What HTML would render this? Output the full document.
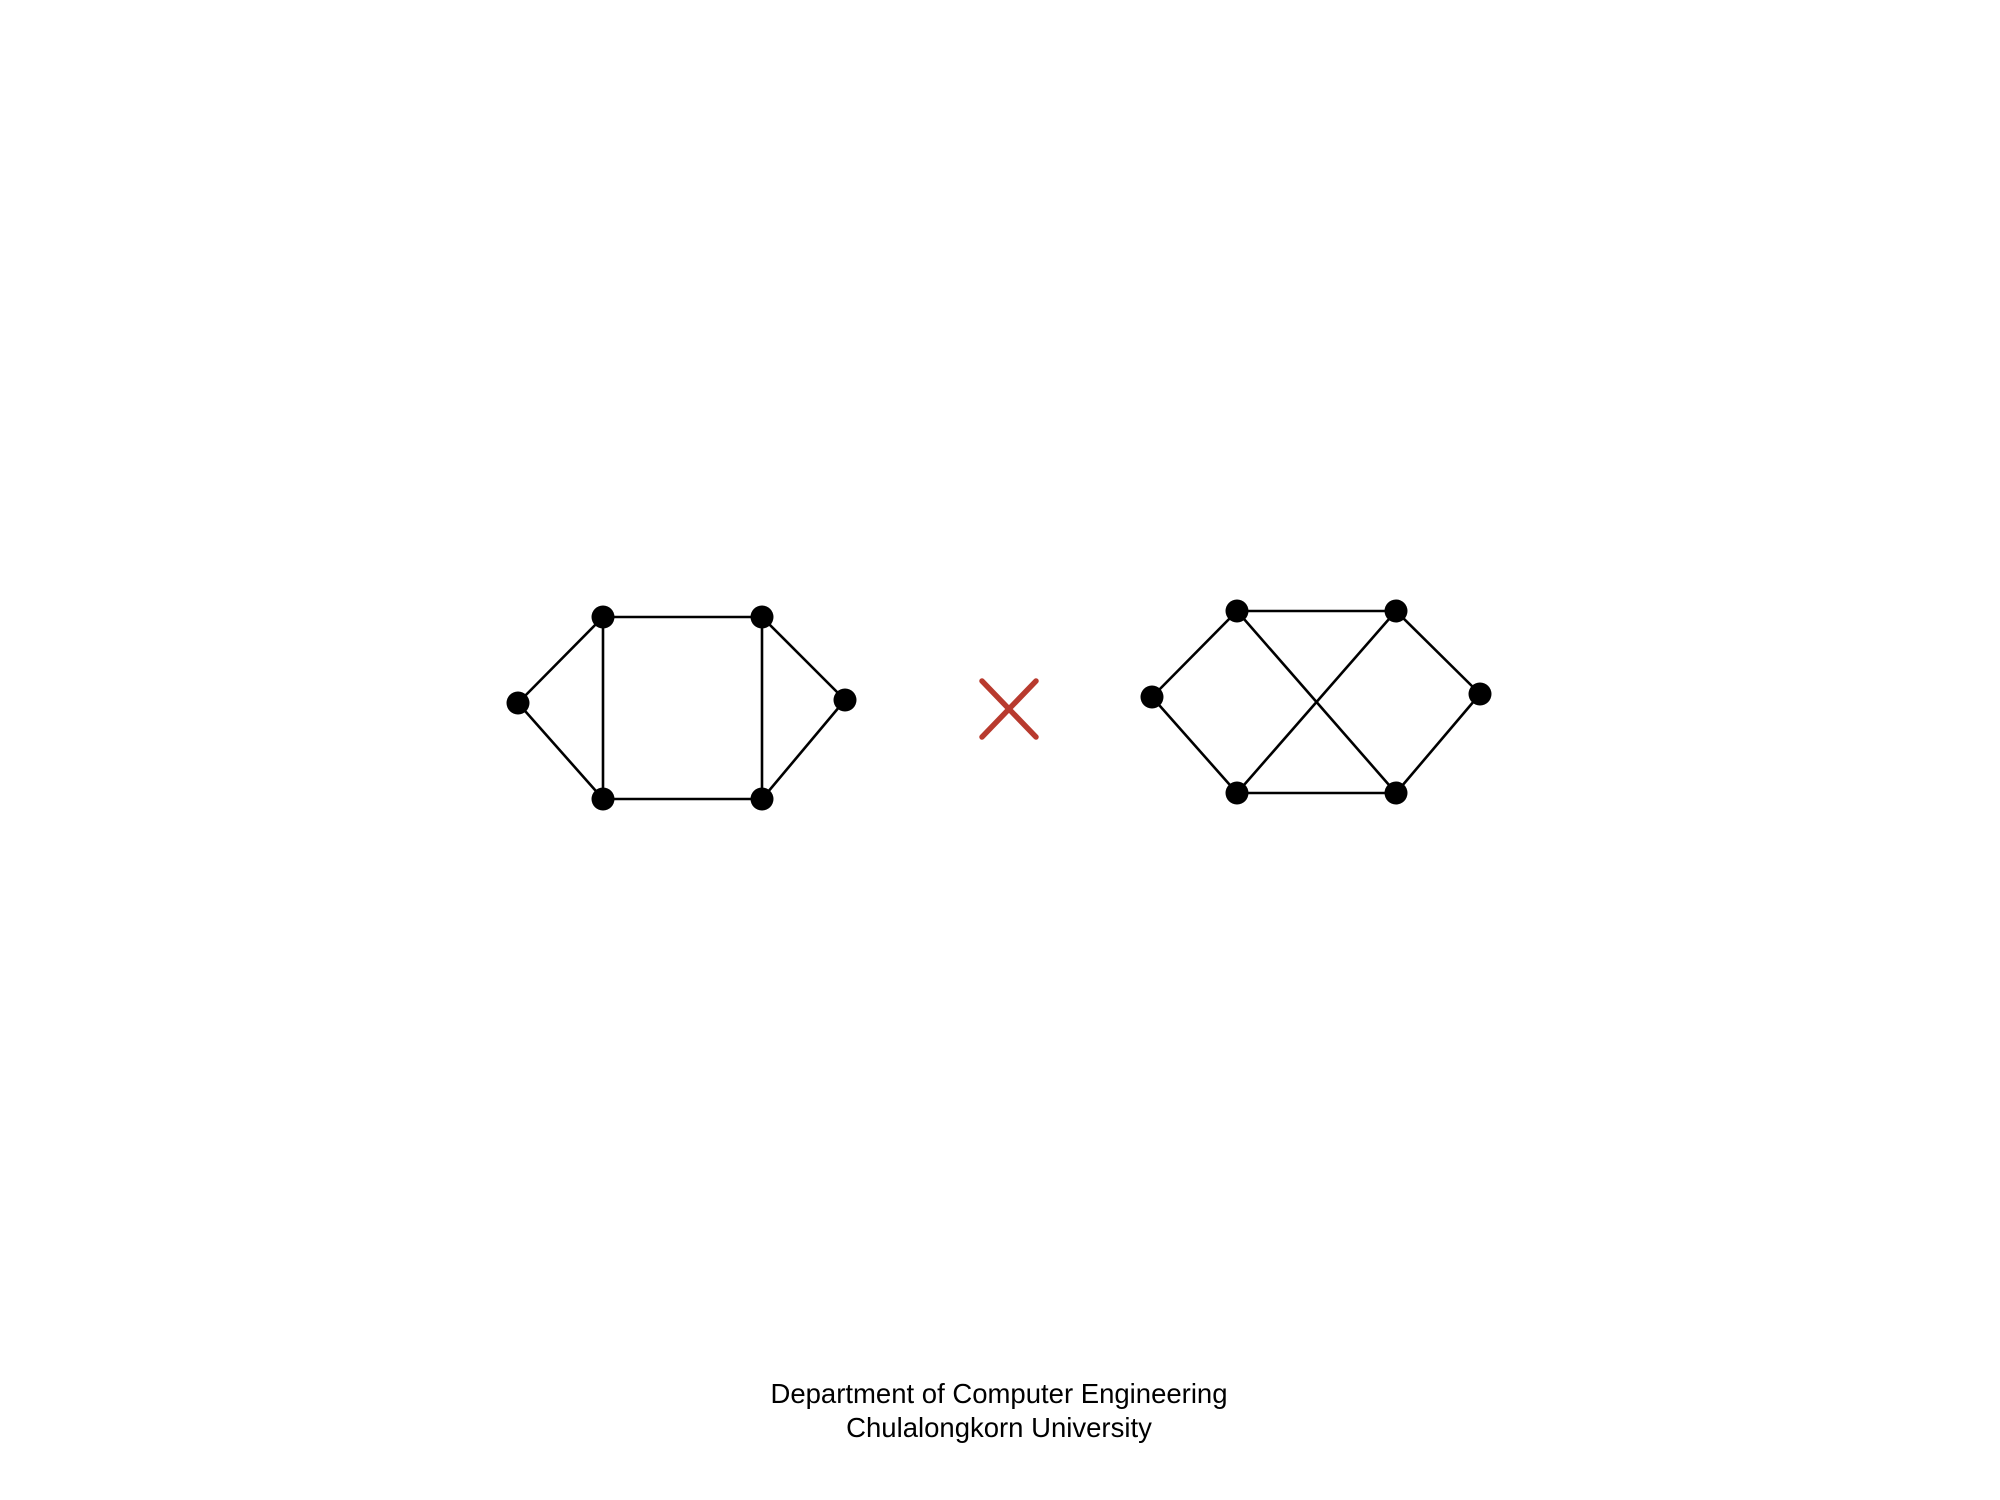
<!DOCTYPE html>
<html><head><meta charset="utf-8">
<style>
html,body{margin:0;padding:0;background:#fff;}
svg{display:block;}
text{font-family:"Liberation Sans",Arial,sans-serif;}
</style></head>
<body>
<svg id="fig" width="2000" height="1500" viewBox="0 0 2000 1500" xmlns="http://www.w3.org/2000/svg">
<rect width="2000" height="1500" fill="#fff"/>
<g id="g1"></g>
<g id="g2"></g>
<g stroke="#b83a2e" stroke-width="5.5" stroke-linecap="round">
<line x1="982" y1="681" x2="1036" y2="737"/>
<line x1="1036" y1="681" x2="982" y2="737"/>
</g>
<text x="999" y="1403" font-size="27.5" text-anchor="middle" fill="#000">Department of Computer Engineering</text>
<text x="999" y="1437" font-size="27.5" text-anchor="middle" fill="#000">Chulalongkorn University</text>
</svg>
<script>
const leftNodesX = [518, 603, 762, 845, 603, 762];
const leftNodesY = [703, 617, 617, 700, 799, 799];
const leftEdges = [[0,1],[0,4],[1,2],[1,4],[2,3],[2,5],[3,5],[4,5]];
const rightNodesX = [1152, 1237, 1396, 1480, 1237, 1396];
const rightNodesY = [697, 611, 611, 694, 793, 793];
const rightEdges = [[0,1],[0,4],[1,2],[1,5],[2,3],[2,4],[3,5],[4,5]];
const NS = "http://www.w3.org/2000/svg";
function draw(gid, xs, ys, edges, prefix){
  const g = document.getElementById(gid);
  edges.forEach(function(e, i){
    const l = document.createElementNS(NS, "line");
    l.setAttribute("x1", xs[e[0]]); l.setAttribute("y1", ys[e[0]]);
    l.setAttribute("x2", xs[e[1]]); l.setAttribute("y2", ys[e[1]]);
    l.setAttribute("stroke", "#000"); l.setAttribute("stroke-width", "2.6");
    
    
    g.appendChild(l);
  });
  xs.forEach(function(x, i){
    const c = document.createElementNS(NS, "circle");
    c.setAttribute("cx", x); c.setAttribute("cy", ys[i]); c.setAttribute("r", "11.5");
    c.setAttribute("fill", "#000");
    
    
    g.appendChild(c);
  });
}
draw("g1", leftNodesX, leftNodesY, leftEdges, "left-graph");
draw("g2", rightNodesX, rightNodesY, rightEdges, "right-graph");
</script>
</body></html>
